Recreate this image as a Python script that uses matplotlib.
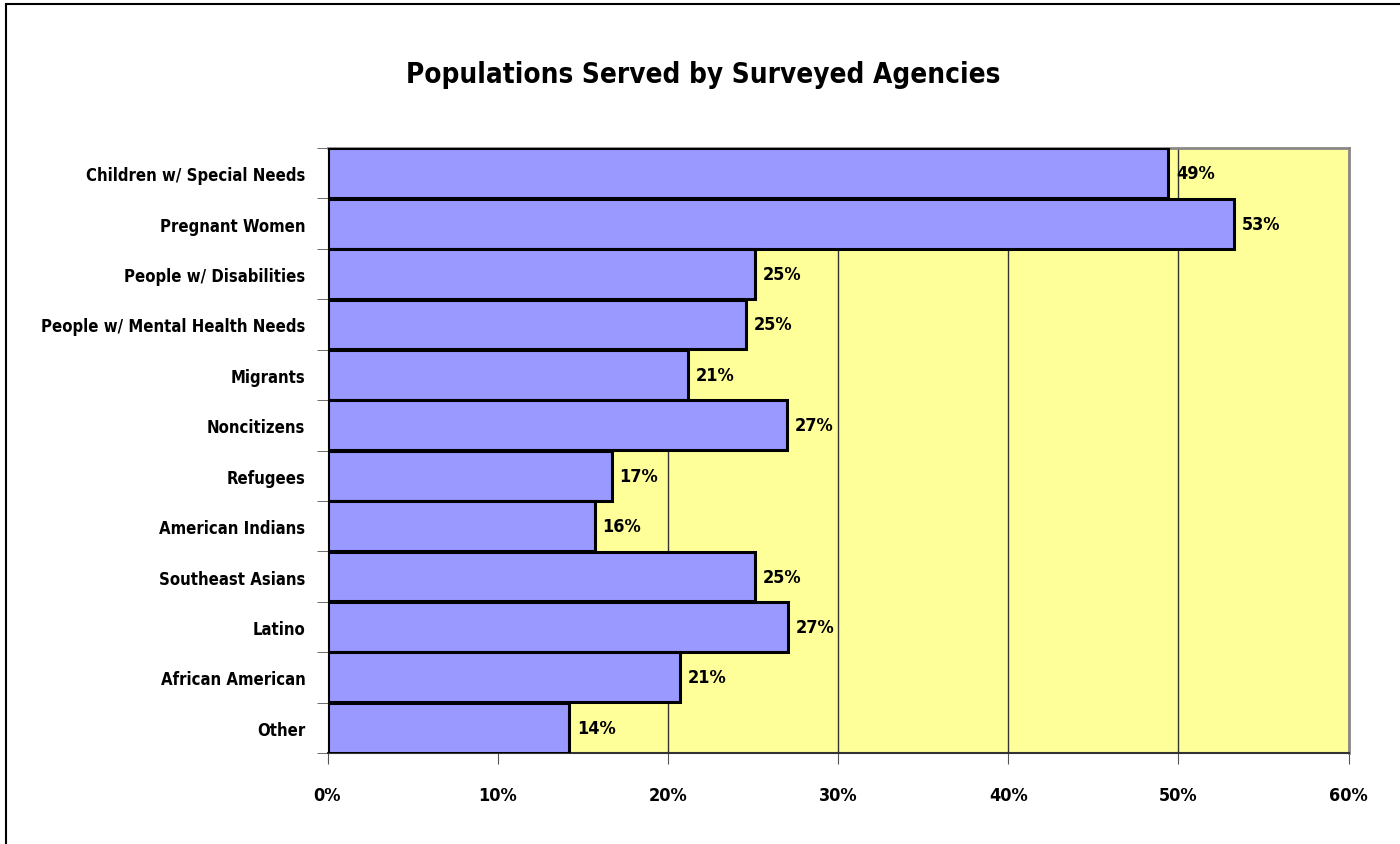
import matplotlib
matplotlib.use("Agg")
import matplotlib.pyplot as plt
from matplotlib.patches import Rectangle
from matplotlib.ticker import FuncFormatter, FixedLocator

plt.rcParams["font.family"] = ["DejaVu Sans"]
plt.rcParams["font.stretch"] = "condensed"
plt.rcParams["font.weight"] = "bold"

# Dati (dall'alto verso il basso)
categories = [
    "Children w/ Special Needs",
    "Pregnant Women",
    "People w/ Disabilities",
    "People w/ Mental Health Needs",
    "Migrants",
    "Noncitizens",
    "Refugees",
    "American Indians",
    "Southeast Asians",
    "Latino",
    "African American",
    "Other",
]
values = [49.4, 53.3, 25.1, 24.6, 21.2, 27.0, 16.7, 15.7, 25.1, 27.05, 20.7, 14.2]
value_labels = ["49%", "53%", "25%", "25%", "21%", "27%", "17%", "16%",
                "25%", "27%", "21%", "14%"]
x_ticks = [0, 10, 20, 30, 40, 50, 60]

fig = plt.figure(figsize=(14, 8.45), dpi=100)
ax = fig.add_axes([327.5 / 1400, 1 - 754 / 845, 1021 / 1400, 605 / 845])

# Bordo della figura
fig.patches.append(Rectangle((6 / 1400, -0.05), 1.1, 1 - 5 / 845 + 0.05,
                             transform=fig.transFigure, fill=False,
                             edgecolor="black", linewidth=1.5))

ax.set_facecolor("#FFFF99")
ypos = list(range(len(categories)))
ax.barh(ypos, values, height=0.99, color="#9999FF", edgecolor="black",
        linewidth=2.2, zorder=3)

for y, v, lab in zip(ypos, values, value_labels):
    ax.text(v + 0.45, y, lab, va="center", ha="left", fontsize=13,
            fontweight="bold", zorder=4)

ax.set_xlim(0, 60)
ax.set_ylim(len(categories) - 0.5, -0.5)
ax.xaxis.set_major_locator(FixedLocator(x_ticks))
ax.xaxis.set_major_formatter(FuncFormatter(lambda x, p: f"{int(x)}%"))
ax.grid(axis="x", color="#333333", linewidth=1.0, zorder=1)
ax.tick_params(axis="x", length=8, direction="out", pad=16, labelsize=13,
               color="#555555")

ax.set_yticks(ypos)
ax.set_yticklabels(categories, fontsize=12, fontweight="bold")
ax.tick_params(axis="y", length=0, pad=16)
ax.set_yticks([i - 0.5 for i in range(len(categories) + 1)], minor=True)
ax.tick_params(axis="y", which="minor", length=8, color="#555555")

for side in ["top", "right"]:
    ax.spines[side].set_color("#888888")
    ax.spines[side].set_linewidth(2)
ax.spines["left"].set_color("black")
ax.spines["bottom"].set_color("#333333")
ax.spines["bottom"].set_linewidth(1.5)

fig.text(703 / 1400, 1 - 75 / 845, "Populations Served by Surveyed Agencies",
         ha="center", va="center", fontsize=20, fontweight="bold")

fig.savefig("out.png", dpi=100)
